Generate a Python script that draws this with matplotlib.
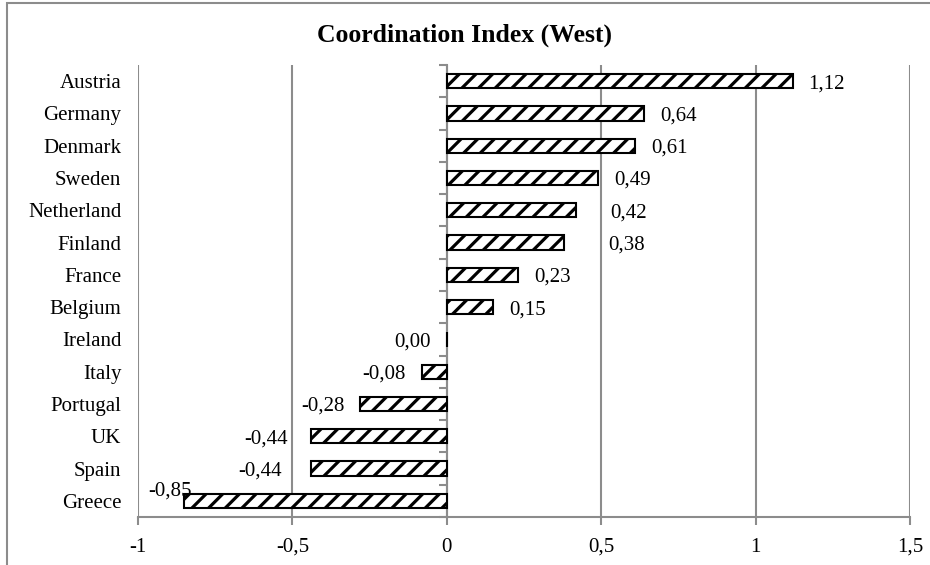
import numpy as np
import matplotlib.pyplot as plt
from matplotlib.patches import Rectangle

plt.rcParams['font.family'] = ['Liberation Serif', 'DejaVu Serif']
plt.rcParams['hatch.linewidth'] = 2.3

countries = ['Austria', 'Germany', 'Denmark', 'Sweden', 'Netherland', 'Finland',
             'France', 'Belgium', 'Ireland', 'Italy', 'Portugal', 'UK', 'Spain', 'Greece']
index_vals = [1.12, 0.64, 0.61, 0.49, 0.42, 0.38, 0.23, 0.15, 0.00,
              -0.08, -0.28, -0.44, -0.44, -0.85]
x_ticks = [-1, -0.5, 0, 0.5, 1, 1.5]
x_ticklabels = ['-1', '-0,5', '0', '0,5', '1', '1,5']

GRID = '#8c8c8c'
FS = 15

fig = plt.figure(figsize=(9.3, 5.65), dpi=100)
fig.patches.append(Rectangle((0.0075, -0.05), 1.1, 1.045, transform=fig.transFigure,
                             fill=False, edgecolor=GRID, linewidth=1.5))
ax = fig.add_axes([0.1484, 0.085, 0.830, 0.800])

y = np.arange(len(countries))
ax.barh(y, index_vals, height=0.44, color='white', edgecolor='black',
        linewidth=1.5, hatch='//', zorder=3)

ax.set_xlim(-1, 1.5)
ax.set_ylim(len(countries) - 0.5, -0.5)
ax.set_xticks(x_ticks)
ax.set_xticklabels(x_ticklabels)
ax.set_yticks(y)
ax.set_yticklabels(countries)
ax.tick_params(axis='y', length=0, pad=12, labelsize=FS)
ax.tick_params(axis='x', length=6, color=GRID, width=1.5, pad=9, labelsize=FS)
ax.grid(axis='x', color=GRID, linewidth=1.5, zorder=0)
for s in ['top', 'right', 'left']:
    ax.spines[s].set_visible(False)
ax.spines['bottom'].set_color(GRID)
ax.spines['bottom'].set_linewidth(1.5)

# category axis sits on x = 0
yax = ax.secondary_yaxis((0 - (-1)) / 2.5)
yax.set_yticks(np.arange(-0.5, len(countries), 1))
yax.set_yticklabels([])
yax.tick_params(axis='y', left=True, right=False, direction='out', length=6,
                color=GRID, width=1.5)
yax.spines['left'].set_color(GRID)
yax.spines['left'].set_linewidth(1.5)
yax.spines['right'].set_color(GRID)
yax.spines['right'].set_linewidth(1.5)

# value labels; a few are moved off the gridlines
moved = {4: (0.531, 0, 'left'), 5: (0.524, 0, 'left'),
         11: (-0.515, 0, 'right'), 12: (-0.534, 0, 'right')}
for i, v in enumerate(index_vals):
    txt = f'{v:.2f}'.replace('.', ',')
    if i == len(index_vals) - 1:
        ax.text(v - 0.045, i - 0.37, txt, ha='center', va='center_baseline', fontsize=FS)
    elif i in moved:
        xx, dy, ha = moved[i]
        ax.text(xx, i + dy, txt, ha=ha, va='center_baseline', fontsize=FS)
    elif v >= 0 and txt != '0,00':
        ax.annotate(txt, (v, i), xytext=(11.5, 0), textcoords='offset points',
                    ha='left', va='center_baseline', fontsize=FS)
    else:
        ax.annotate(txt, (v, i), xytext=(-11.5, 0), textcoords='offset points',
                    ha='right', va='center_baseline', fontsize=FS)

fig.text(0.499, 1 - 35 / 565, 'Coordination Index (West)', ha='center', va='center',
         fontsize=18.5, fontweight='bold')

fig.savefig('out.png', dpi=100)
